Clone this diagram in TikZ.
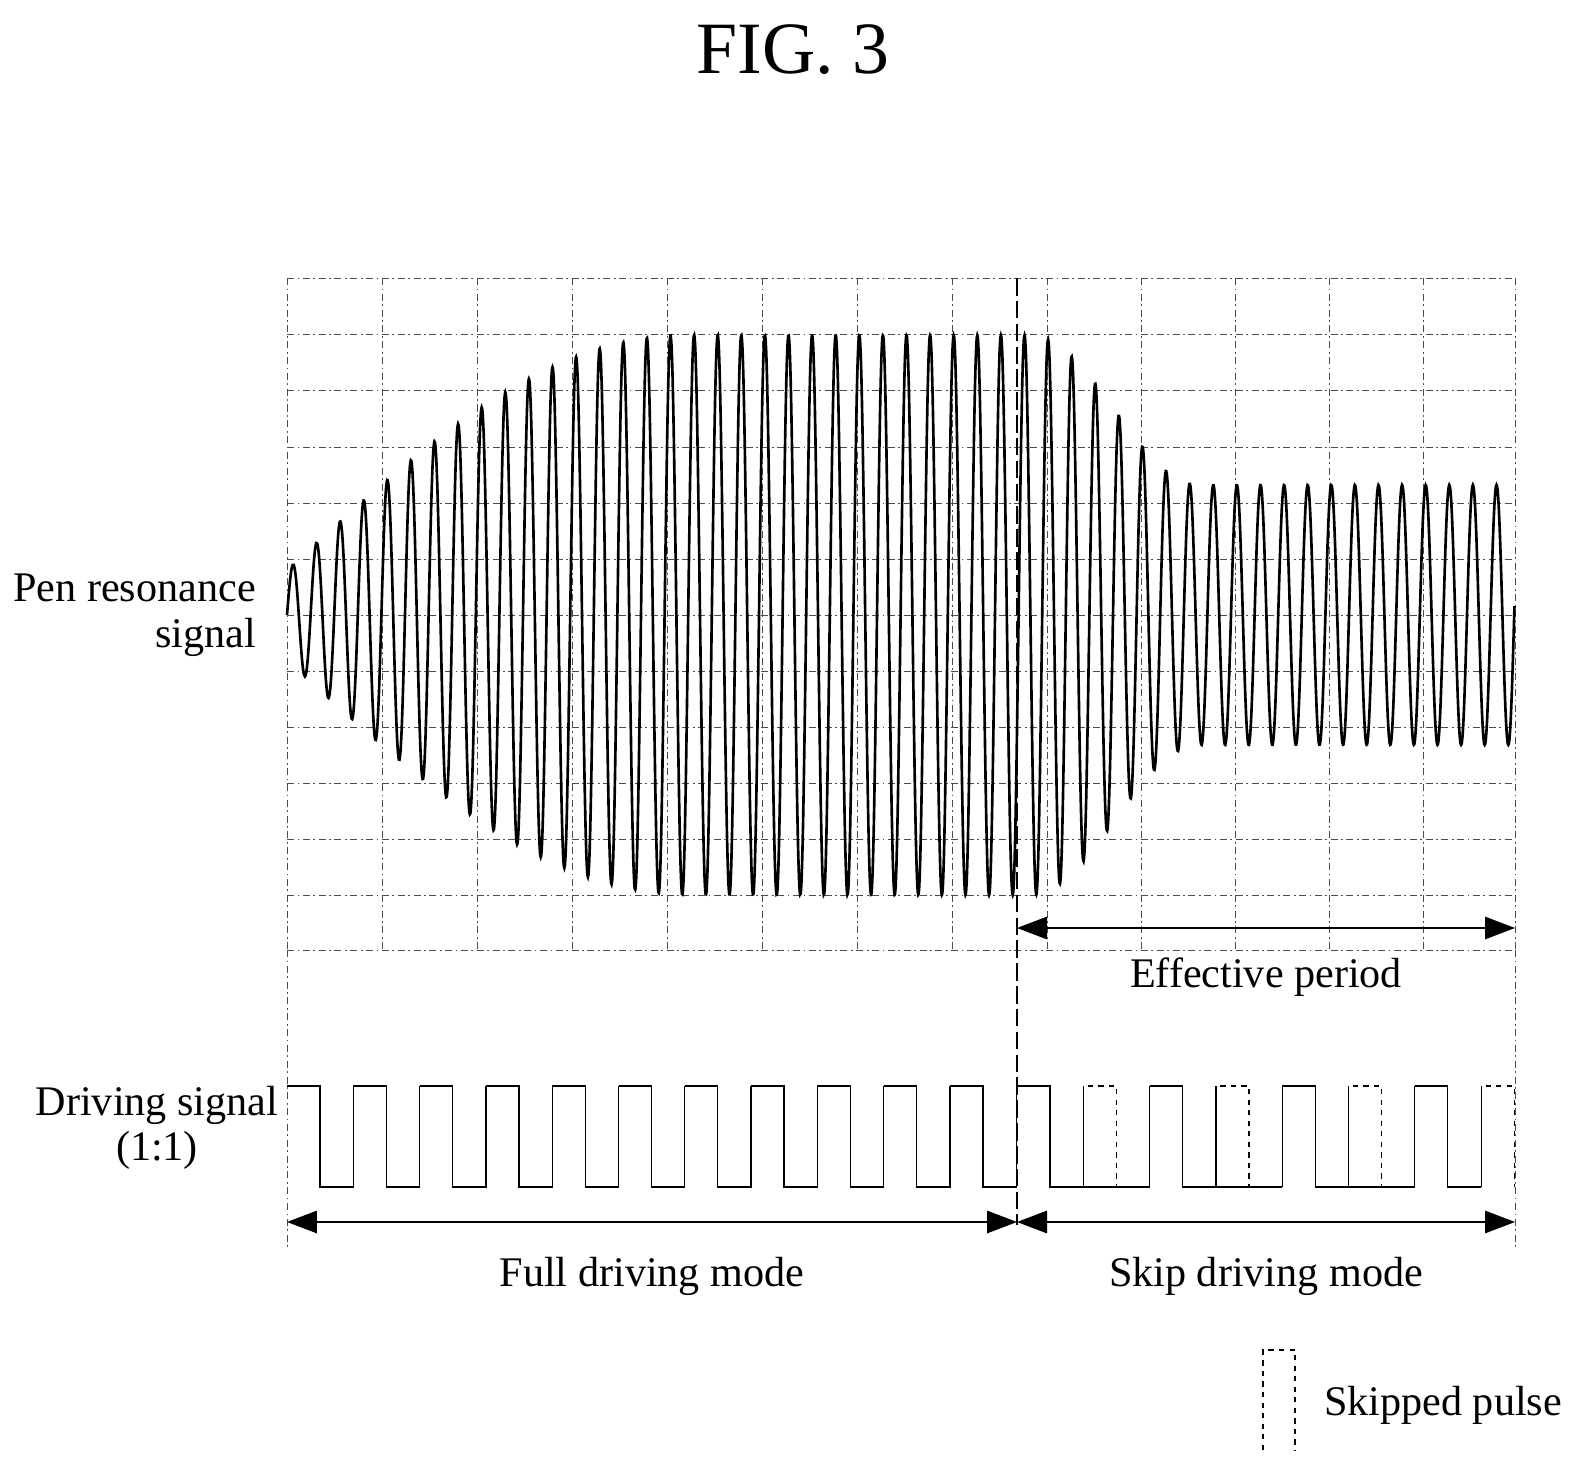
\documentclass[tikz,border=0pt]{standalone}
\usepackage{fontspec}
\setmainfont{Liberation Serif}
\usetikzlibrary{arrows.meta, positioning, calc}
\tikzset{
	grid line/.style={draw=black!70, dash pattern=on 4pt off 2pt on 1pt off 2pt, line width=0.5pt},
	pulse/.style={draw=black, line width=0.7pt},
	skipped/.style={draw=black, dashed, line width=0.7pt},
	span/.style={draw, line width=0.8pt, {Triangle[length=6mm, width=4.5mm]}-{Triangle[length=6mm, width=4.5mm]}},
	label text/.style={font=\fontsize{24}{26}\selectfont}
}
\begin{document}
\begin{tikzpicture}[x=0.02cm, y=-0.02cm,
	declare function={
		ramp(\t)=45+235*sin(90*min(1,(\t-287)/400));
		fade(\t)=130+75*(1+cos(180*min(1,max(0,(\t-1030)/170))));
		env(\t)=min(ramp(\t),fade(\t));}
	]
	\useasboundingbox (0,0) rectangle (1572,1476);

	% title
	\node[font=\fontsize{42}{44}\selectfont] (title) at (793,50) {FIG. 3};

	% grid
	\foreach \gx in {287,382,477,572,667,762,857,952,1047,1141,1235,1329,1423,1515}
		\draw[grid line] (\gx,278) -- (\gx,950);
	\foreach \gy in {278,334,390,447,503,559,615,671,727,783,839,895,950}
		\draw[grid line] (287,\gy) -- (1515,\gy);

	% pen resonance signal (parameter in cycles)
	\draw[line width=1.5pt, domain=0:52.03, samples=1300, smooth]
		plot ({287+23.6*\x}, {615-env(287+23.6*\x)*sin(360*(\x-floor(\x)))});

	% mode boundary
	\coordinate (boundary_top) at (1017,278);
	\coordinate (boundary_bottom) at (1017,1225);
	\draw[line width=0.6pt, dash pattern=on 10pt off 3pt] (boundary_top) -- (boundary_bottom);
	\draw[grid line] (287,950) -- (287,1250);
	\draw[grid line] (1515,950) -- (1515,1250);

	% driving signal
	\foreach \k in {0,...,10}
		\draw[pulse] ({287+66.3*\k},1086) -- ++(33,0) -- ++(0,101) -- ++(33.3,0) -- ++(0,-101);
	\foreach \k in {0,...,7}{
		\pgfmathsetmacro{\px}{1017+66.3*\k}
		\pgfmathtruncatemacro{\odd}{mod(\k,2)}
		\ifnum\odd=0
			\draw[pulse] (\px,1086) -- ++(33,0) -- ++(0,101) -- ++(33.3,0);
		\else
			\ifnum\k<7 \draw[pulse] (\px,1187) -- ++(66.3,0); \fi
			\draw[skipped] (\px,1187) -- ++(0,-101) -- ++(33,0) -- ++(0,101);
		\fi
		\ifnum\k<7 \draw[pulse] ({\px+66.3},1187) -- ++(0,-101); \fi
	}

	% spans
	\coordinate (full_start) at (287,1222);
	\coordinate (full_end) at (1017,1222);
	\coordinate (skip_end) at (1515,1222);
	\coordinate (effective_start) at (1017,928);
	\coordinate (effective_end) at (1515,928);
	\draw[span] (full_start) -- (full_end);
	\draw[span] (full_end) -- (skip_end);
	\draw[span] (effective_start) -- (effective_end);

	% labels
	\node[label text, align=right, anchor=east] (pen_label) at (262,615) {Pen resonance\\signal};
	\node[label text, align=center] (drive_label) at (157,1128) {Driving signal\\(1:1)};
	\node[label text] (effective_label) at (1266,977) {Effective period};
	\node[label text] (full_label) at (652,1276) {Full driving mode};
	\node[label text] (skip_label) at (1266,1276) {Skip driving mode};

	% legend
	\draw[skipped] (1263,1450) -- (1263,1350) -- (1295,1350) -- (1295,1450);
	\node[label text, anchor=west] (legend_label) at (1318,1405) {Skipped pulse};
\end{tikzpicture}
\end{document}
